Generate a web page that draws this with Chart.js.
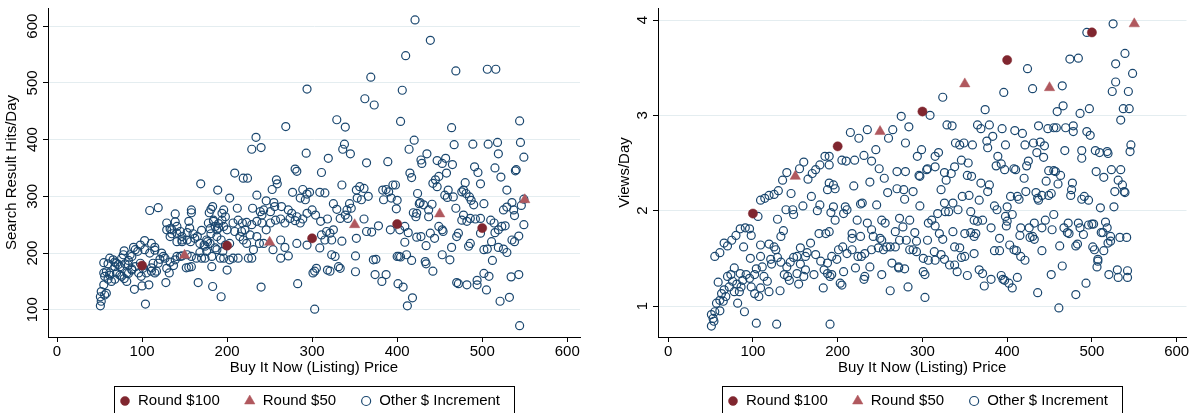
<!DOCTYPE html>
<html>
<head>
<meta charset="utf-8">
<script src="https://cdn.jsdelivr.net/npm/chart.js@4"></script>
<style>
  html, body { margin: 0; padding: 0; background: #fff; overflow: hidden; }
  #wrap { position: relative; width: 1193px; height: 413px; overflow: hidden; }
  canvas { position: absolute; top: 0; }
  #left { left: 0; }
  #right { left: 600px; }
</style>
</head>
<body>
<div id="wrap">
  <canvas id="left" width="600" height="430"></canvas>
  <canvas id="right" width="593" height="430"></canvas>
</div>
<script>
// legend + tick labels
const legendLabels = ['Round $100', 'Round $50', 'Other $ Increment'];
const priceTicks = [0, 100, 200, 300, 400, 500, 600];
const hitsTicks = [100, 200, 300, 400, 500, 600];
const viewsTicks = [1, 2, 3, 4];

// left panel: [price, search result hits/day]
const hitsRound100 = [[100,178],[200,213],[300,226],[400,251],[500,244]];
const hitsRound50 = [[150,196],[250,219],[350,250],[450,269],[550,294]];
const hitsOther = [
  [169,322],[189,311],[109,275],[119,280],[139,269],[158,276],[158,271],[181,277],[179,271],[183,282],[194,270],[196,276],
  [129,253],[133,243],[141,247],[155,256],[135,234],[145,238],[147,223],[147,220],[153,236],[160,234],[165,229],[170,240],
  [178,253],[184,256],[186,247],[190,244],[181,234],[188,229],[177,220],[173,214],[194,258],[198,264],[103,222],[111,217],
  [115,210],[90,210],[98,214],[95,203],[103,206],[79,204],[88,194],[84,187],[76,191],[62,191],[66,188],[70,182],[55,183],
  [60,181],[68,176],[74,176],[80,181],[58,167],[56,159],[60,154],[64,150],[68,154],[62,165],[55,165],[70,165],[76,159],
  [82,150],[82,165],[88,170],[92,176],[55,144],[52,132],[51,123],[52,115],[51,107],[56,126],[58,129],[91,136],[100,142],
  [108,144],[104,110],[123,200],[121,189],[119,182],[125,194],[113,182],[115,165],[111,168],[129,173],[132,165],[128,148],
  [137,178],[141,194],[147,195],[155,175],[152,174],[158,194],[164,191],[168,201],[174,191],[182,176],[192,191],[193,123],
  [200,170],[166,148],[183,141],[98,182],[101,173],[105,165],[99,159],[96,165],
  [68,184],[72,180],[84,179],[88,172],[62,161],[74,161],[79,155],[84,164],[109,200],[115,205],[127,191],[133,184],[111,174],
  [117,168],[92,206],[86,197],[78,197],[139,188],[145,194],[153,197],[158,176],[170,191],[176,203],[182,194],[188,206],
  [135,241],[141,235],[147,229],[133,229],[141,220],[153,223],[157,220],[162,226],[168,217],[174,212],[180,217],[186,209],
  [176,223],[184,258],[190,252],[196,247],[188,241],[200,241],[180,243],[156,244],[139,255],[129,241],
  [369,510],[294,489],[362,472],[373,461],[329,435],[339,422],[269,423],[234,404],[229,383],[240,386],[338,392],[336,383],
  [345,375],[293,376],[319,367],[364,359],[389,361],[209,341],[219,332],[224,332],[280,348],[282,344],[311,342],[258,329],
  [259,322],[253,312],[289,312],[294,304],[297,307],[286,297],[292,294],[277,307],[309,307],[315,306],[335,320],[352,311],
  [356,317],[361,314],[366,300],[353,297],[358,294],[383,311],[387,312],[390,308],[395,320],[393,297],[384,294],[400,293],
  [203,297],[212,279],[235,302],[246,292],[255,289],[243,276],[251,273],[256,282],[264,282],[230,279],[239,273],[241,267],
  [272,276],[276,270],[282,264],[289,260],[294,270],[300,276],[304,267],[310,256],[318,260],[325,287],[329,277],[344,287],
  [341,276],[346,279],[339,267],[333,261],[342,261],[207,253],[213,258],[218,253],[223,254],[229,250],[235,256],[241,253],
  [209,238],[215,229],[219,223],[223,217],[227,232],[203,217],[221,241],[217,238],[251,253],[257,258],[263,260],[268,253],
  [274,261],[280,257],[286,253],[246,241],[243,217],[263,223],[268,210],[272,195],[263,191],[254,206],[282,217],[294,214],
  [311,232],[317,238],[321,235],[325,241],[323,223],[315,223],[309,209],[335,221],[352,226],[361,260],[364,238],[370,237],
  [378,248],[392,241],[403,241],[323,197],[327,194],[331,176],[333,173],[318,170],[321,168],[305,173],[301,165],[303,168],
  [283,146],[303,101],[351,195],[351,167],[372,188],[375,189],[374,162],[382,150],[387,162],[400,194],[401,146],[196,191],
  [203,188],[207,191],[213,191],[225,191],[229,191],[240,140],[193,223],[198,214],[195,203],[235,229],[238,217],[231,206],
  [421,611],[439,575],[410,548],[469,521],[506,524],[516,524],[406,487],[404,432],[544,433],[464,421],[420,399],[414,383],
  [467,391],[489,392],[507,392],[518,395],[545,395],[519,375],[428,364],[429,358],[435,375],[447,363],[453,358],[457,367],
  [465,356],[549,369],[540,347],[539,345],[491,352],[495,342],[515,350],[522,334],[498,322],[529,311],[415,341],[417,333],
  [442,323],[445,329],[449,335],[458,341],[447,317],[424,305],[427,289],[431,285],[441,286],[437,276],[423,270],[419,271],
  [422,264],[437,264],[426,287],[460,311],[456,302],[459,298],[466,299],[469,279],[476,308],[478,311],[480,324],[481,305],
  [485,299],[487,293],[490,285],[502,287],[399,278],[398,320],[525,276],[529,281],[535,289],[537,276],[538,266],[549,295],
  [546,284],[478,267],[476,258],[482,256],[486,261],[492,260],[498,261],[510,258],[514,253],[523,247],[527,248],[549,250],
  [409,247],[413,236],[423,228],[428,229],[434,213],[439,235],[444,226],[449,247],[453,241],[454,238],[409,219],[411,197],
  [417,187],[402,194],[404,193],[470,229],[472,235],[464,210],[462,188],[453,197],[484,212],[486,217],[498,235],[502,206],
  [506,207],[511,220],[512,187],[519,210],[525,207],[529,201],[535,223],[538,220],[543,230],[519,241],[515,236],[433,185],
  [434,181],[442,168],[470,148],[472,146],[482,144],[494,152],[494,144],[502,164],[508,159],[505,135],[407,140],[418,121],
  [412,107],[521,115],[532,122],[534,158],[543,162],[544,72]
];

// right panel: [price, views/day]
const viewsRound100 = [[100,1.97],[200,2.675],[300,3.04],[400,3.58],[500,3.87]];
const viewsRound50 = [[150,2.36],[250,2.83],[350,3.33],[450,3.29],[550,3.96]];
const viewsOther = [
  [185,2.57],[179,2.48],[174,2.43],[170,2.39],[165,2.33],[160,2.51],[155,2.44],[140,2.40],[135,2.32],[130,2.21],[145,2.18],
  [125,2.17],[119,2.16],[114,2.13],[109,2.11],[169,2.15],[179,2.06],[176,2.0],[159,2.05],[147,2.01],[139,2.01],[148,1.96],
  [129,1.91],[136,1.79],[133,1.73],[98,1.74],[96,1.81],[91,1.82],[85,1.81],[80,1.74],[75,1.69],[66,1.66],[70,1.63],
  [61,1.56],[55,1.52],[89,1.62],[109,1.64],[119,1.65],[125,1.62],[127,1.59],[129,1.51],[97,1.50],[109,1.52],[111,1.41],
  [104,1.39],[122,1.44],[133,1.46],[121,1.49],[188,2.22],[195,2.04],[192,1.98],[178,1.76],[186,1.76],[168,1.66],[156,1.61],
  [164,1.56],[174,1.54],[152,1.52],[148,1.51],[162,1.52],[180,1.47],[188,1.45],[193,1.52],[184,1.38],[188,1.34],[183,1.19],
  [144,1.46],[140,1.41],[137,1.33],[141,1.31],[143,1.27],[154,1.23],[152,1.34],[160,1.31],[172,1.33],[162,1.38],[156,1.44],
  [132,1.16],[113,1.31],[117,1.26],[119,1.15],[109,1.19],[107,1.10],[102,1.13],[98,1.20],[96,1.29],[102,1.33],[92,1.33],
  [85,1.34],[88,1.27],[81,1.23],[84,1.15],[78,1.40],[74,1.33],[70,1.31],[72,1.20],[66,1.17],[63,1.13],[68,1.10],[61,1.06],
  [57,1.03],[65,1.05],[59,1.25],[55,0.94],[51,0.91],[53,0.87],[54,0.84],[51,0.79],[61,0.95],[90,0.94],[104,0.82],[128,0.81],
  [191,0.81],[82,1.03],[78,1.15],[76,1.26],[86,1.20],[106,1.94],[190,2.48],[190,2.29],
  [324,3.19],[396,3.24],[374,3.06],[309,3.00],[275,2.99],[284,2.88],[265,2.85],[260,2.76],[235,2.85],[225,2.76],[215,2.82],
  [245,2.64],[280,2.71],[299,2.64],[294,2.57],[315,2.57],[319,2.61],[329,2.90],[335,2.89],[365,2.90],[369,2.86],[379,2.90],
  [394,2.86],[383,2.78],[376,2.73],[377,2.66],[398,2.69],[339,2.71],[344,2.69],[349,2.71],[359,2.69],[205,2.53],[210,2.52],
  [220,2.53],[231,2.58],[240,2.52],[249,2.44],[255,2.34],[190,2.57],[306,2.44],[305,2.43],[315,2.46],[326,2.40],[334,2.39],
  [338,2.46],[346,2.53],[354,2.50],[353,2.37],[358,2.36],[328,2.32],[389,2.57],[393,2.49],[397,2.43],[387,2.47],[270,2.41],
  [280,2.41],[297,2.36],[296,2.37],[238,2.30],[197,2.23],[195,2.27],[219,2.26],[259,2.19],[270,2.23],[278,2.22],[289,2.20],
  [322,2.22],[279,2.12],[347,2.15],[355,2.16],[369,2.29],[379,2.27],[377,2.20],[367,2.11],[209,2.04],[211,2.01],[207,1.97],
  [229,2.08],[227,2.07],[246,2.06],[297,2.05],[326,2.08],[336,2.08],[327,1.99],[331,1.99],[342,2.01],[357,1.99],[385,2.05],
  [388,2.01],[400,2.04],[197,1.90],[190,1.78],[223,1.90],[235,1.87],[252,1.90],[256,1.87],[273,1.92],[285,1.90],[307,1.87],
  [311,1.90],[318,1.97],[315,1.84],[361,1.90],[365,1.89],[371,1.90],[381,1.82],[398,1.94],[217,1.76],[217,1.71],[227,1.73],
  [240,1.80],[242,1.73],[250,1.71],[252,1.69],[268,1.78],[277,1.83],[291,1.77],[320,1.76],[324,1.70],[336,1.78],[350,1.76],
  [357,1.77],[361,1.73],[363,1.76],[391,1.71],[201,1.59],[206,1.62],[199,1.49],[211,1.55],[217,1.59],[224,1.52],[228,1.52],
  [232,1.55],[240,1.59],[248,1.61],[254,1.59],[258,1.62],[262,1.62],[268,1.62],[273,1.69],[281,1.69],[285,1.59],[289,1.59],
  [293,1.68],[293,1.57],[306,1.69],[314,1.57],[315,1.48],[307,1.48],[301,1.50],[322,1.54],[338,1.62],[344,1.61],[350,1.52],
  [346,1.51],[361,1.55],[385,1.58],[391,1.58],[193,1.33],[191,1.31],[203,1.24],[205,1.22],[207,1.36],[221,1.40],[232,1.31],
  [231,1.28],[238,1.41],[252,1.33],[262,1.16],[264,1.45],[272,1.41],[272,1.40],[279,1.39],[283,1.20],[301,1.36],[303,1.33],
  [303,1.09],[326,1.49],[332,1.43],[338,1.43],[341,1.36],[353,1.32],[367,1.38],[371,1.34],[373,1.21],[381,1.28],[393,1.32],
  [395,1.28],[397,1.27],
  [525,3.96],[494,3.87],[539,3.65],[474,3.59],[484,3.60],[528,3.54],[424,3.49],[548,3.44],[430,3.28],[465,3.31],[528,3.35],
  [524,3.25],[543,3.25],[466,3.10],[459,3.04],[486,3.02],[497,3.07],[537,3.07],[544,3.07],[534,2.95],[409,2.84],[418,2.81],
  [437,2.89],[448,2.86],[455,2.87],[458,2.87],[469,2.87],[478,2.89],[478,2.83],[494,2.83],[498,2.79],[421,2.69],[431,2.71],
  [435,2.61],[439,2.72],[444,2.68],[443,2.56],[468,2.63],[488,2.63],[488,2.55],[504,2.63],[509,2.61],[518,2.62],[519,2.60],
  [546,2.69],[545,2.62],[408,2.44],[410,2.43],[423,2.47],[425,2.52],[420,2.34],[449,2.42],[455,2.42],[457,2.41],[463,2.37],
  [446,2.31],[460,2.28],[477,2.29],[476,2.22],[475,2.16],[505,2.41],[514,2.35],[523,2.43],[534,2.43],[531,2.32],[536,2.27],
  [538,2.20],[527,2.20],[539,2.19],[526,2.04],[404,2.15],[412,2.15],[414,2.12],[422,2.20],[434,2.19],[437,2.11],[436,2.13],
  [441,2.16],[449,2.16],[452,2.18],[488,2.12],[491,2.15],[496,2.11],[510,2.03],[406,1.96],[400,1.89],[399,1.84],[416,1.82],
  [426,1.82],[432,1.87],[445,1.90],[455,1.96],[467,1.82],[472,1.87],[484,1.87],[486,1.82],[496,1.85],[500,1.86],[502,1.86],
  [511,1.77],[513,1.77],[516,1.88],[518,1.82],[522,1.73],[522,1.68],[519,1.66],[533,1.72],[541,1.72],[441,1.82],[453,1.80],
  [430,1.73],[427,1.72],[432,1.70],[415,1.74],[471,1.77],[473,1.76],[490,1.75],[481,1.63],[483,1.65],[501,1.62],[503,1.59],
  [514,1.58],[507,1.49],[507,1.47],[506,1.41],[403,1.64],[408,1.59],[411,1.58],[416,1.52],[421,1.48],[441,1.58],[462,1.63],
  [465,1.42],[452,1.33],[493,1.24],[481,1.12],[461,0.98],[436,1.14],[412,1.30],[402,1.24],[406,1.19],[520,1.33],[530,1.38],
  [531,1.30],[542,1.37],[542,1.30]
];

const FONT = '"Liberation Sans", Arial, sans-serif';
Chart.defaults.font.family = FONT;
Chart.defaults.font.size = 15;
Chart.defaults.color = '#000';

const toXY = arr => arr.map(([x, y]) => ({ x: x, y: y }));

// vertical y tick labels (Stata style)
const rotatedYLabels = {
  id: 'rotatedYLabels',
  afterDraw(chart) {
    const s = chart.scales.y;
    const ctx = chart.ctx;
    ctx.save();
    ctx.font = '15px ' + FONT;
    ctx.fillStyle = '#000';
    ctx.textAlign = 'center';
    ctx.textBaseline = 'middle';
    s.ticks.forEach(t => {
      ctx.save();
      ctx.translate(s.right - 15, s.getPixelForValue(t.value));
      ctx.rotate(-Math.PI / 2);
      ctx.fillText(String(t.value), 0, 0);
      ctx.restore();
    });
    ctx.restore();
  }
};

// boxed legend under the plot
const boxLegend = {
  id: 'boxLegend',
  afterDraw(chart) {
    const ctx = chart.ctx, ca = chart.chartArea;
    ctx.save();
    ctx.font = '15px ' + FONT;
    const items = chart.data.datasets.map(ds => ({ ds: ds, w: ctx.measureText(ds.label).width }));
    const inner = 5 + items.reduce((a, it) => a + 13 + it.w, 0) + 30 * (items.length - 1);
    const boxW = inner + 6 + 14;
    const left = Math.round((ca.left + ca.right) / 2 - boxW / 2);
    const top = 386, cy = 401;
    ctx.strokeStyle = '#000';
    ctx.lineWidth = 1;
    ctx.strokeRect(left + 0.5, top + 0.5, Math.round(boxW), 40);
    let x = left + 6 + 5;
    items.forEach(it => {
      const ds = it.ds;
      ctx.fillStyle = ds.backgroundColor;
      ctx.strokeStyle = ds.borderColor;
      ctx.lineWidth = ds.borderWidth;
      Chart.helpers.drawPoint(ctx, {
        pointStyle: ds.pointStyle,
        radius: ds.pointStyle === 'triangle' ? 6 : 4.5,
        borderWidth: ds.borderWidth,
        rotation: 0
      }, x, cy);
      ctx.fillStyle = '#000';
      ctx.textAlign = 'left';
      ctx.textBaseline = 'middle';
      ctx.fillText(ds.label, x + 13, cy);
      x += 13 + it.w + 30;
    });
    ctx.restore();
  }
};

function makeChart(id, round100, round50, other, cfg) {
  return new Chart(document.getElementById(id), {
    type: 'scatter',
    data: {
      datasets: [
        { label: legendLabels[0], data: toXY(round100), pointStyle: 'circle', pointRadius: 4.6,
          backgroundColor: '#80262f', borderColor: '#80262f', borderWidth: 0.5, order: 0 },
        { label: legendLabels[1], data: toXY(round50), pointStyle: 'triangle', pointRadius: 6,
          backgroundColor: '#b0585e', borderColor: '#b0585e', borderWidth: 0.5, order: 1 },
        { label: legendLabels[2], data: toXY(other), pointStyle: 'circle', pointRadius: 4,
          backgroundColor: 'rgba(0,0,0,0)', borderColor: '#1a476f', borderWidth: 1.2, order: 2 }
      ]
    },
    options: {
      responsive: false,
      animation: false,
      devicePixelRatio: 1,
      events: [],
      layout: { padding: { left: 0, right: cfg.padRight, top: 8, bottom: 47 } },
      plugins: { legend: { display: false }, tooltip: { enabled: false } },
      scales: {
        x: {
          type: 'linear',
          min: cfg.xMin, max: cfg.xMax,
          afterBuildTicks: s => { s.ticks = priceTicks.map(v => ({ value: v })); },
          afterFit: s => { s.height = 46; },
          border: { color: '#000', width: 1 },
          grid: { drawOnChartArea: false, tickColor: '#000', tickLength: 5 },
          ticks: { color: '#000', padding: 1, maxRotation: 0, font: { size: 15 } },
          title: { display: true, text: 'Buy It Now (Listing) Price', color: '#000',
                   font: { size: 15 }, padding: { top: 0, bottom: 6 } }
        },
        y: {
          type: 'linear',
          min: cfg.yMin, max: cfg.yMax,
          afterBuildTicks: s => { s.ticks = cfg.yTicks.map(v => ({ value: v })); },
          afterFit: s => { s.width = cfg.yWidth; },
          border: { color: '#000', width: 1 },
          grid: { color: '#e4edf0', lineWidth: 1, tickColor: '#000', tickLength: 5 },
          ticks: { display: false },
          title: { display: true, text: cfg.yTitle, color: '#000',
                   font: { size: 15 }, padding: { top: cfg.yTitlePad, bottom: 0 } }
        }
      }
    },
    plugins: [rotatedYLabels, boxLegend]
  });
}

makeChart('left', hitsRound100, hitsRound50, hitsOther, {
  xMin: -10.6, xMax: 615, yMin: 52, yMax: 632, yTicks: hitsTicks,
  yTitle: 'Search Result Hits/Day', yWidth: 48, yTitlePad: 3, padRight: 20
});

makeChart('right', viewsRound100, viewsRound50, viewsOther, {
  xMin: -12, xMax: 611.6, yMin: 0.675, yMax: 4.126, yTicks: viewsTicks,
  yTitle: 'Views/Day', yWidth: 58, yTitlePad: 16, padRight: 3
});
</script>
</body>
</html>
